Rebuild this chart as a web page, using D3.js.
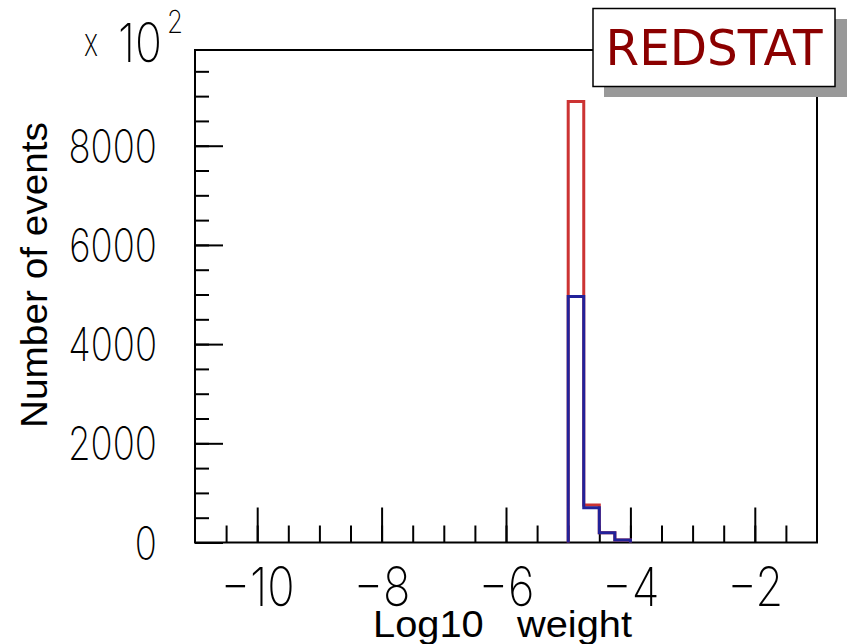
<!DOCTYPE html>
<html>
<head>
<meta charset="utf-8">
<script src="https://cdn.jsdelivr.net/npm/d3@7"></script>
<style>
  body { margin: 0; background: #fff; }
  svg { display: block; }
</style>
</head>
<body>
<div id="chart"></div>
<script>
// histogram bins (lower edges, width 0.25) and counts in units of 10^2
const binLow = [-5, -4.75, -4.5, -4.25];
const binWidth = 0.25;
const redCounts = [8890, 756, 198, 50];
const blueCounts = [4960, 700, 198, 50];
const xMajorTicks = [-10, -8, -6, -4, -2];
const yMajorTicks = [0, 2000, 4000, 6000, 8000];

const W = 847, H = 644;
const frame = { left: 195, right: 817, top: 50, bottom: 542.5 };
const tickFont = "Inter, 'Liberation Sans', sans-serif";
const titleFont = "'Liberation Sans', Arial, sans-serif";

d3.select("#chart").html("");
const svg = d3.select("#chart").append("svg")
  .attr("width", W).attr("height", H);

const x = d3.scaleLinear().domain([-11, -1]).range([frame.left, frame.right]);
const y = d3.scaleLinear().domain([0, 9930]).range([frame.bottom, frame.top]);

// frame
svg.append("rect")
  .attr("x", frame.left).attr("y", frame.top)
  .attr("width", frame.right - frame.left).attr("height", frame.bottom - frame.top)
  .attr("fill", "none").attr("stroke", "#000").attr("stroke-width", 2);

// minor ticks (inside the frame)
svg.append("g")
  .attr("transform", `translate(0,${frame.bottom})`)
  .call(d3.axisBottom(x).tickValues(d3.range(-10.5, -1, 0.5)).tickSize(-17).tickFormat(""))
  .call(g => g.select(".domain").remove());
svg.append("g")
  .attr("transform", `translate(${frame.left},0)`)
  .call(d3.axisLeft(y).tickValues(d3.range(0, 9930, 500)).tickSize(-14).tickFormat(""))
  .call(g => g.select(".domain").remove());

// major ticks + labels
const xAxis = svg.append("g")
  .attr("transform", `translate(0,${frame.bottom})`)
  .call(d3.axisBottom(x).tickValues(xMajorTicks).tickSize(-35).tickPadding(0));
xAxis.select(".domain").remove();

const yAxis = svg.append("g")
  .attr("transform", `translate(${frame.left},0)`)
  .call(d3.axisLeft(y).tickValues(yMajorTicks).tickSize(-28).tickFormat(d3.format("d")));
yAxis.select(".domain").remove();

svg.selectAll(".tick line").attr("stroke", "#000").attr("stroke-width", 2);

function styleTick(t, size) {
  t.attr("font-family", tickFont).attr("font-size", size)
    .attr("font-weight", 200).attr("fill", "#000");
}

// x labels: condensed, digit height ~39px
const xt = xAxis.selectAll(".tick text");
styleTick(xt, 54);
xt.attr("dy", null).attr("y", 64);
let wMax = d3.max(xt.nodes(), n => n.getComputedTextLength());
const sxX = 74 / wMax;
xt.attr("transform", `scale(${sxX},1)`);

// y labels
const yt = yAxis.selectAll(".tick text");
styleTick(yt, 46);
yt.attr("dy", 16.5).attr("text-anchor", "end");
wMax = d3.max(yt.nodes(), n => n.getComputedTextLength());
const sxY = 89 / wMax;
yt.attr("x", -38 / sxY).attr("transform", `scale(${sxY},1)`);

// "x 10^2" multiplier
function fitText(txt, left, base, size, width) {
  const t = svg.append("text").attr("font-family", tickFont).attr("font-size", size)
    .attr("font-weight", 200).attr("fill", "#000").text(txt);
  const sx = width / t.node().getComputedTextLength();
  t.attr("transform", `translate(${left},${base}) scale(${sx},1)`);
}
fitText("x", 84, 56, 40, 14);
fitText("10", 118, 62, 54, 44);
fitText("2", 167, 33, 32, 16);

// histograms
const line = d3.line().x(d => x(d[0])).y(d => y(d[1]));
function steps(counts) {
  const pts = [[binLow[0], 0]];
  counts.forEach((c, i) => {
    pts.push([binLow[i], c], [binLow[i] + binWidth, c]);
  });
  pts.push([binLow[binLow.length - 1] + binWidth, 0]);
  return pts;
}
svg.append("path").attr("d", line(steps(redCounts)))
  .attr("fill", "none").attr("stroke", "#cc3333").attr("stroke-width", 3);
svg.append("path").attr("d", line(steps(blueCounts)))
  .attr("fill", "none").attr("stroke", "#22229a").attr("stroke-width", 3);

// axis titles
svg.append("text")
  .attr("transform", "translate(47,275) rotate(-90)")
  .attr("text-anchor", "middle")
  .attr("font-family", titleFont).attr("font-size", 36)
  .attr("textLength", 306).attr("lengthAdjust", "spacingAndGlyphs")
  .text("Number of events");

svg.append("text")
  .attr("x", 502.5).attr("y", 637)
  .attr("text-anchor", "middle")
  .attr("font-family", titleFont).attr("font-size", 37)
  .style("white-space", "pre")
  .attr("textLength", 259).attr("lengthAdjust", "spacingAndGlyphs")
  .text("Log10   weight");

// stat box with shadow
svg.append("rect").attr("x", 604).attr("y", 19).attr("width", 243).attr("height", 78)
  .attr("fill", "#999");
svg.append("rect").attr("x", 593).attr("y", 8.5).attr("width", 242).attr("height", 78)
  .attr("fill", "#fff").attr("stroke", "#000").attr("stroke-width", 1.5);
svg.append("text")
  .attr("x", 714).attr("y", 65)
  .attr("text-anchor", "middle")
  .attr("font-family", "'DejaVu Sans', sans-serif").attr("font-size", 50)
  .attr("textLength", 217).attr("lengthAdjust", "spacingAndGlyphs")
  .attr("fill", "#8b0000")
  .text("REDSTAT");
</script>
</body>
</html>
